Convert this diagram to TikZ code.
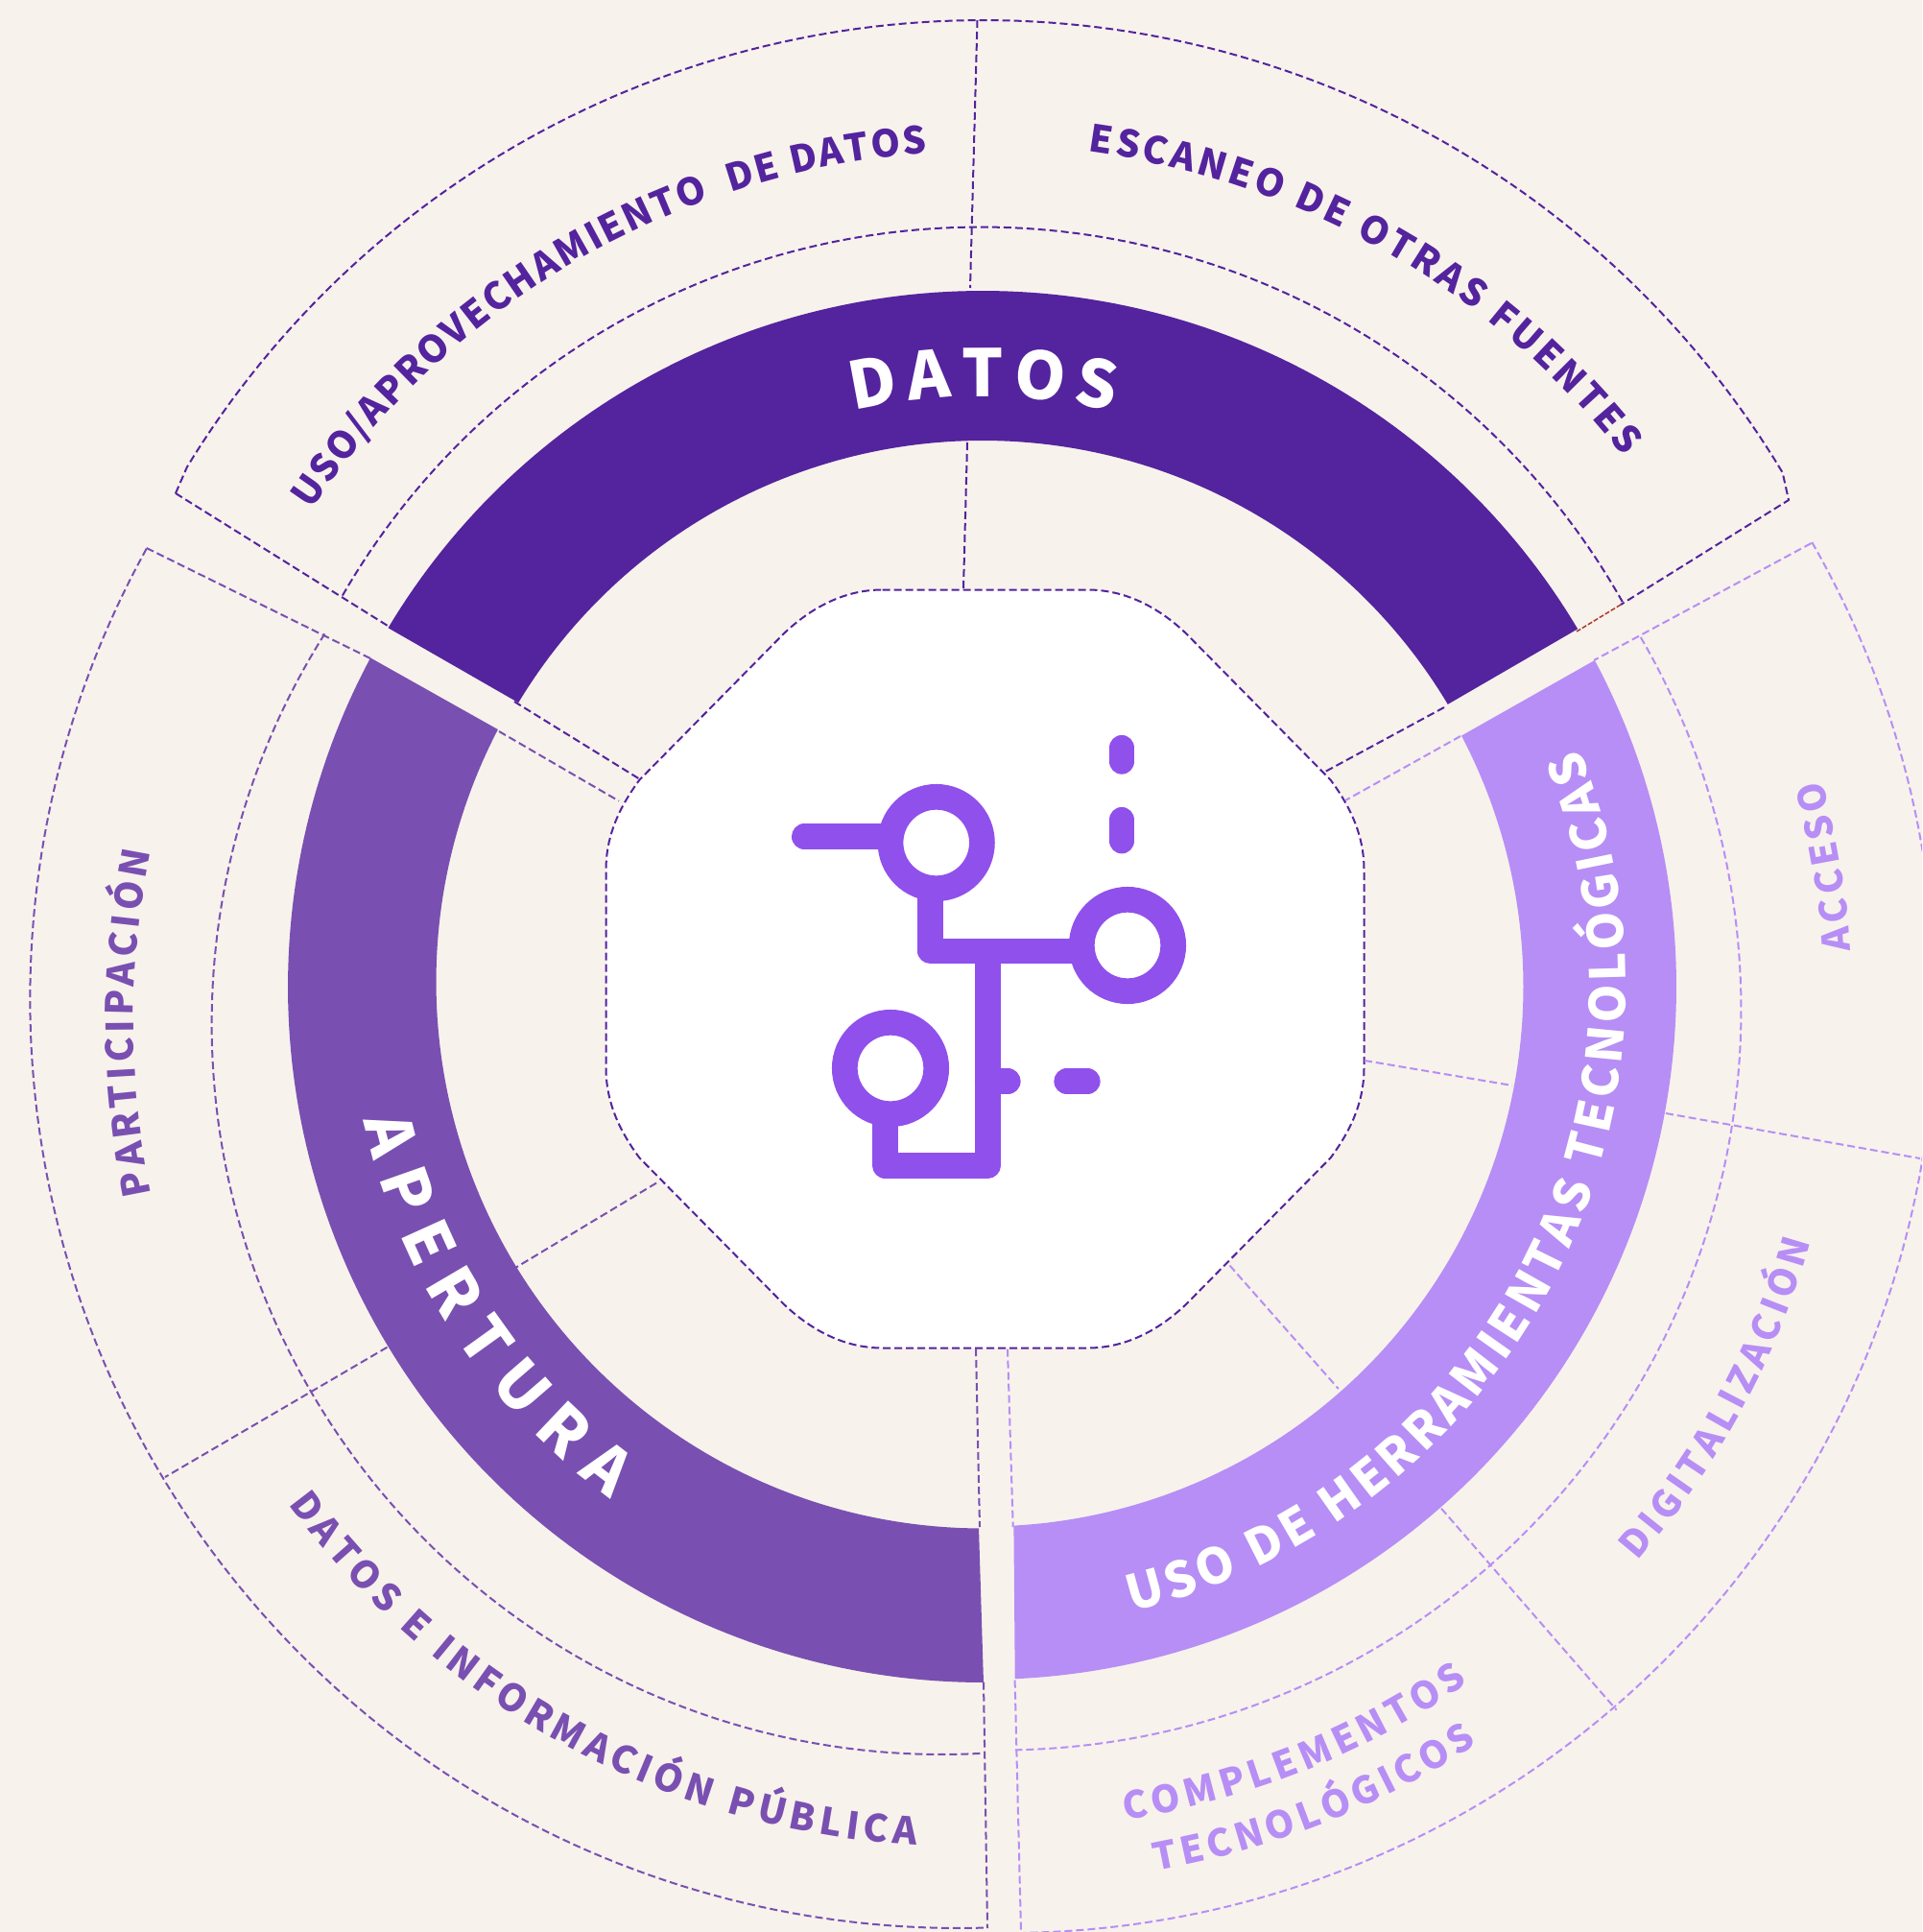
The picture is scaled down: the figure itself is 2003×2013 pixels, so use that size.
\documentclass[tikz,border=0pt]{standalone}
\usepackage{fontspec}
\usetikzlibrary{decorations.text}
\newfontfamily\srcfont{Noto Sans CJK SC}
\definecolor{bgc}{HTML}{F7F2EC}
\definecolor{dk}{HTML}{54239E}
\definecolor{md}{HTML}{7950B1}
\definecolor{lt}{HTML}{B78EF5}
\definecolor{ico}{HTML}{9050EC}
\definecolor{rd}{HTML}{B0392B}
\newcommand\arcp[5]{plot[domain=#4:#5,samples=121,variable=\t] ({#1+#3*cos(\t)},{#2-#3*sin(\t)})}
\newcommand\arcq[5]{-- plot[domain=#4:#5,samples=121,variable=\t] ({#1+#3*cos(\t)},{#2-#3*sin(\t)})}
\newcommand\labfont[1]{\srcfont\bfseries\fontsize{#1}{#1}\selectfont}
\newcommand\curvetext[8]{\path[decorate,decoration={text along path,text align={fit to path},text={|\labfont{#2}\color{#1}|#8}}] \arcp{#3}{#4}{#5}{#6}{#7};}
\tikzset{
  dashdk/.style={draw=dk,line width=2pt,dash pattern=on 8pt off 4pt},
  dashmd/.style={draw=md,line width=2pt,dash pattern=on 8pt off 4pt},
  dashlt/.style={draw=lt,line width=2pt,dash pattern=on 8pt off 4pt},
  dashrd/.style={draw=rd,line width=1.5pt,dash pattern=on 5pt off 2pt},
  icon/.style={draw=ico,line width=26.7pt,line join=round},
  iconround/.style={icon,line cap=round},
  iconring/.style={draw=ico,line width=26.7pt,fill=white}
}
\begin{document}
\begin{tikzpicture}[x=1pt,y=-1pt]
\path[use as bounding box] (0,0) rectangle (2003,2013);
\clip (0,0) rectangle (2003,2013);
\fill[bgc] (0,0) rectangle (2003,2013);
% centre
\begin{scope}[shift={(1026.5,1009.5)}]
\draw[dashdk,fill=white] (-107,-395) -- (107,-395) .. controls (150,-395) and (185,-373) .. (210,-349) -- (360,-197) .. controls (380,-170) and (395,-140) .. (395,-103) -- (395,103) .. controls (395,140) and (380,170) .. (360,197) -- (210,349) .. controls (185,373) and (150,395) .. (107,395) -- (-107,395) .. controls (-150,395) and (-185,373) .. (-210,349) -- (-360,197) .. controls (-380,170) and (-395,140) .. (-395,103) -- (-395,-103) .. controls (-395,-140) and (-380,-170) .. (-360,-197) -- (-210,-349) .. controls (-185,-373) and (-150,-395) .. (-107,-395) -- cycle;
\end{scope}
% rings
\fill[dk] \arcp{1024}{1025}{722}{30.8}{149.1} \arcq{1024}{1024}{565}{148.9}{30.9} -- cycle;
\fill[md] \arcp{1025}{1028}{725}{151.8}{270} \arcq{1024}{1023}{569.5}{269.6}{152.5} -- cycle;
\fill[lt] \arcp{1025}{1028}{722}{-87.4}{28.1} \arcq{1025}{1028}{562.5}{27.7}{-86.8} -- cycle;
% top group
\draw[dashdk] (183,514) \arcq{1024.5}{993}{972}{148.6}{31} -- (1864,521) -- (1689,630);
\draw[dashrd] (1689,630) -- (1643,658);
\draw[dashdk] (183,514) -- (404,652);
\draw[dashdk] (536,731) -- (667,812);
\draw[dashdk] (1505,737) -- (1381,804);
\draw[dashdk] \arcp{1022}{1004.5}{768}{150}{29.3};
\draw[dashdk] (1018.5,21) -- (1011,300);
\draw[dashdk] (1008,461) -- (1004,614);
% left group
\draw[dashmd] \arcp{999.3}{1041}{968}{151}{271.7};
\draw[dashmd] \arcp{981.6}{1067}{761}{147.7}{273.3};
\draw[dashmd] (152.7,571) -- (386,686);
\draw[dashmd] (520,762) -- (645,834.6);
\draw[dashmd] (684,1232.6) -- (537,1321);
\draw[dashmd] (403.5,1403.7) -- (172,1539);
\draw[dashmd] (1017,1405) -- (1021,1591);
\draw[dashmd] (1025,1752.6) -- (1029,2009);
% right group
\draw[dashlt] \arcp{1050}{1047}{967}{29.9}{-89};
\draw[dashlt] \arcp{1043}{1052}{771.5}{30.2}{-88.9};
\draw[dashlt] (1887.5,566) -- (1661,688);
\draw[dashlt] (1522,767) -- (1402,834);
\draw[dashlt] (1050,1405.7) -- (1055.7,1591);
\draw[dashlt] (1057.6,1750.6) -- (1064,2013);
\draw[dashlt] (1422,1105) -- (1576,1131);
\draw[dashlt] (1736,1160) -- (2001,1207);
\draw[dashlt] (1281.5,1318.5) -- (1394.8,1447);
\draw[dashlt] (1502,1571.7) -- (1684.6,1781.7);
% icon
\draw[iconround] (838.3,871.7) -- (927,871.7);
\draw[icon] (969.7,930) -- (969.7,991) -- (1127,991);
\draw[icon] (1029.3,991) -- (1029.3,1214.3) -- (922.3,1214.3) -- (922.3,1163);
\draw[iconround] (1029.3,1126.7) -- (1050.3,1126.7);
\draw[iconround] (1111.7,1126.7) -- (1133.3,1126.7);
\draw[iconround] (1169,779.3) -- (1169,793.3);
\draw[iconround] (1169,854.3) -- (1169,876);
\draw[iconring] (975.7,878) circle (47.7);
\draw[iconring] (1175,985) circle (47.7);
\draw[iconring] (928,1113) circle (47.7);
% labels
\curvetext{white}{68}{1024}{1025}{612}{102.7}{77.1}{DATOS}
\curvetext{white}{66}{1025}{1027}{661}{192.3}{234}{APERTURA}
\curvetext{white}{51}{1025}{1028}{669}{-76.7}{21.8}{USO DE HERRAMIENTAS TECNOLÓGICAS}
\curvetext{dk}{39}{1024}{1000}{842}{146.2}{93.9}{USO/APROVECHAMIENTO{\ }{\ }DE DATOS}
\curvetext{dk}{39}{1024}{1000}{849}{82.6}{38.1}{ESCANEO DE OTRAS FUENTES}
\curvetext{md}{39}{1008}{1065}{869}{191.9}{168.2}{PARTICIPACIÓN}
\curvetext{md}{39}{1005}{1050}{874}{216.3}{266.7}{DATOS E INFORMACIÓN PÚBLICA}
\curvetext{lt}{39}{1043}{1052}{888}{4}{15.6}{ACCESO}
\curvetext{lt}{39}{1043}{1052}{878}{-40.9}{-16}{DIGITALIZACIÓN}
\curvetext{lt}{39}{1043}{1052}{854}{-81.3}{-55.2}{COMPLEMENTOS}
\curvetext{lt}{39}{1043}{1052}{912}{-79.8}{-57}{TECNOLÓGICOS}
\end{tikzpicture}
\end{document}
